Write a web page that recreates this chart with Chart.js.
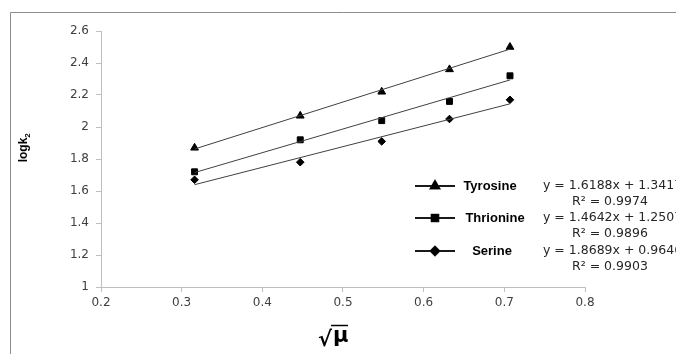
<!DOCTYPE html>
<html>
<head>
<meta charset="utf-8">
<script src="https://cdn.jsdelivr.net/npm/chart.js@4/dist/chart.umd.min.js"></script>
<style>
  html, body { margin: 0; padding: 0; background: #fff; }
  #wrap { width: 676px; height: 354px; position: relative; }
</style>
</head>
<body>
<div id="wrap"><canvas id="rateChart" width="676" height="354"></canvas></div>
<script>
// sqrt(ionic strength) values
const sqrtMu = [0.316, 0.447, 0.548, 0.632, 0.707];

// logk2 for each amino acid
const tyrosine = [1.87, 2.07, 2.22, 2.36, 2.50];
const thrionine = [1.72, 1.92, 2.04, 2.16, 2.32];
const serine = [1.67, 1.78, 1.91, 2.05, 2.17];

const seriesNames = ['Tyrosine', 'Thrionine', 'Serine'];
const equations = ['y = 1.6188x + 1.3417', 'y = 1.4642x + 1.2507', 'y = 1.8689x + 0.9646'];
const rSquared = ['R² = 0.9974', 'R² = 0.9896', 'R² = 0.9903'];
const markers = ['triangle', 'rect', 'rectRot'];
const markerSize = [4.5, 4.2, 3.8];

const xTicks = [0.2, 0.3, 0.4, 0.5, 0.6, 0.7, 0.8];
const yTicks = [1, 1.2, 1.4, 1.6, 1.8, 2, 2.2, 2.4, 2.6];

const tickFont = { family: 'DejaVu Sans', size: 12 };
const tickColor = '#404040';
const axisColor = '#bfbfbf';

// least squares line through a series, from first to last x
function fitLine(xs, ys) {
  const n = xs.length;
  const mx = xs.reduce((a, b) => a + b, 0) / n;
  const my = ys.reduce((a, b) => a + b, 0) / n;
  let sxy = 0, sxx = 0;
  for (let i = 0; i < n; i++) {
    sxy += (xs[i] - mx) * (ys[i] - my);
    sxx += (xs[i] - mx) * (xs[i] - mx);
  }
  const m = sxy / sxx;
  const b = my - m * mx;
  const x0 = xs[0], x1 = xs[n - 1];
  return [{ x: x0, y: m * x0 + b }, { x: x1, y: m * x1 + b }];
}

const allSeries = [tyrosine, thrionine, serine];
const datasets = [];
allSeries.forEach((vals, i) => {
  datasets.push({
    type: 'line',
    label: seriesNames[i] + ' fit',
    data: fitLine(sqrtMu, vals),
    borderColor: '#404040',
    borderWidth: 1,
    pointRadius: 0,
    fill: false
  });
  datasets.push({
    type: 'scatter',
    label: seriesNames[i],
    data: sqrtMu.map((x, j) => ({ x: x, y: vals[j] })),
    pointStyle: markers[i],
    pointRadius: markerSize[i],
    backgroundColor: '#000',
    borderColor: '#000',
    borderWidth: 1,
    showLine: false
  });
});

// outer frame, axis titles and the legend box with fit equations
const decorations = {
  id: 'decorations',
  beforeDraw(chart) {
    const ctx = chart.ctx;
    ctx.save();
    ctx.strokeStyle = '#8c8c8c';
    ctx.lineWidth = 1;
    ctx.beginPath();
    ctx.moveTo(10.5, 354);
    ctx.lineTo(10.5, 12.5);
    ctx.lineTo(676, 12.5);
    ctx.stroke();
    ctx.restore();
  },
  afterDraw(chart) {
    const ctx = chart.ctx;
    ctx.save();

    // y title: logk2
    ctx.translate(27, 146);
    ctx.rotate(-Math.PI / 2);
    ctx.fillStyle = '#000';
    ctx.font = 'bold 12px "Liberation Sans", Arial, sans-serif';
    ctx.textBaseline = 'alphabetic';
    ctx.textAlign = 'center';
    const main = 'logk';
    const w = ctx.measureText(main).width;
    ctx.fillText(main, -4, 0);
    ctx.font = 'bold 8px "Liberation Sans", Arial, sans-serif';
    ctx.textAlign = 'left';
    ctx.fillText('2', -4 + w / 2, 3);
    ctx.restore();

    // x title: sqrt(mu)
    ctx.save();
    ctx.fillStyle = '#000';
    ctx.strokeStyle = '#000';
    ctx.font = 'bold 21px "DejaVu Sans", sans-serif';
    ctx.textBaseline = 'alphabetic';
    ctx.textAlign = 'left';
    ctx.fillText('√', 318, 346);
    ctx.fillText('μ', 333, 342);
    ctx.lineWidth = 1.5;
    ctx.beginPath();
    ctx.moveTo(331, 325.5);
    ctx.lineTo(348, 325.5);
    ctx.stroke();
    ctx.restore();

    // legend rows
    const rowY = [186, 218, 251];
    const nameX = [490, 495, 492];
    ctx.save();
    rowY.forEach((y, i) => {
      ctx.strokeStyle = '#1a1a1a';
      ctx.lineWidth = 2;
      ctx.beginPath();
      ctx.moveTo(415, y);
      ctx.lineTo(455, y);
      ctx.stroke();
      Chart.helpers.drawPoint(ctx, {
        pointStyle: markers[i],
        radius: markerSize[i] + 0.5,
        rotation: 0,
        borderWidth: 1
      }, 435, y);
      ctx.fillStyle = '#000';
      ctx.strokeStyle = '#000';
      ctx.lineWidth = 1;
      ctx.fill();
      ctx.stroke();

      ctx.fillStyle = '#000';
      ctx.font = 'bold 13px "Liberation Sans", Arial, sans-serif';
      ctx.textAlign = 'center';
      ctx.textBaseline = 'middle';
      ctx.fillText(seriesNames[i], nameX[i], y);

      ctx.fillStyle = '#262626';
      ctx.font = '12.5px "DejaVu Sans", sans-serif';
      ctx.textAlign = 'left';
      ctx.fillText(equations[i], 543, y);
      ctx.fillText(rSquared[i], 572, y + 16);
    });
    ctx.restore();
  }
};

new Chart(document.getElementById('rateChart'), {
  data: { datasets: datasets },
  options: {
    responsive: false,
    animation: false,
    layout: { padding: { top: 31, right: 91, left: 0, bottom: 0 } },
    plugins: { legend: { display: false }, tooltip: { enabled: false } },
    scales: {
      x: {
        type: 'linear',
        min: xTicks[0],
        max: xTicks[xTicks.length - 1],
        afterBuildTicks: s => { s.ticks = xTicks.map(v => ({ value: v })); },
        afterFit: s => { s.height = 67; },
        border: { color: axisColor, width: 1 },
        grid: { display: true, drawOnChartArea: false, drawTicks: true, tickLength: 5, color: axisColor },
        ticks: { font: tickFont, color: tickColor, padding: 4, callback: v => String(+v.toFixed(1)) }
      },
      y: {
        type: 'linear',
        min: yTicks[0],
        max: yTicks[yTicks.length - 1],
        afterBuildTicks: s => { s.ticks = yTicks.map(v => ({ value: v })); },
        afterFit: s => { s.width = 101; },
        border: { color: axisColor, width: 1 },
        grid: { display: true, drawOnChartArea: false, drawTicks: true, tickLength: 5, color: axisColor },
        ticks: { font: tickFont, color: tickColor, padding: 7, callback: v => String(+v.toFixed(1)) }
      }
    }
  },
  plugins: [decorations]
});
</script>
</body>
</html>
